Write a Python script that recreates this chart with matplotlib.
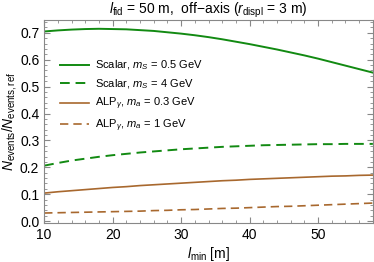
import matplotlib
matplotlib.use("Agg")
import matplotlib.pyplot as plt
from matplotlib.ticker import MultipleLocator

plt.rcParams['font.family'] = ['Liberation Sans', 'DejaVu Sans']
plt.rcParams['mathtext.fontset'] = 'custom'
plt.rcParams['mathtext.rm'] = 'Liberation Sans'
plt.rcParams['mathtext.it'] = 'Liberation Sans:italic'

# l_min [m]
l_min = [10, 12, 14, 16, 18, 20, 22, 24, 26, 28, 30, 32, 34, 36, 38, 40,
         42, 44, 46, 48, 50, 52, 54, 56, 58]

scalar_05 = [0.705, 0.709, 0.712, 0.714, 0.715, 0.714, 0.713, 0.710, 0.707, 0.702,
             0.697, 0.691, 0.684, 0.676, 0.667, 0.658, 0.648, 0.638, 0.627, 0.616,
             0.604, 0.591, 0.578, 0.565, 0.552]
scalar_4 = [0.206, 0.216, 0.225, 0.232, 0.239, 0.245, 0.250, 0.255, 0.259, 0.263,
            0.267, 0.270, 0.273, 0.276, 0.278, 0.280, 0.282, 0.283, 0.284, 0.285,
            0.286, 0.286, 0.287, 0.287, 0.287]
alp_03 = [0.104, 0.109, 0.113, 0.117, 0.121, 0.125, 0.128, 0.132, 0.135, 0.138,
          0.141, 0.144, 0.147, 0.150, 0.152, 0.155, 0.157, 0.159, 0.161, 0.163,
          0.165, 0.167, 0.168, 0.170, 0.171]
alp_1 = [0.030, 0.031, 0.032, 0.033, 0.034, 0.035, 0.036, 0.037, 0.039, 0.040,
         0.042, 0.043, 0.045, 0.047, 0.048, 0.050, 0.052, 0.054, 0.055, 0.057,
         0.059, 0.061, 0.063, 0.065, 0.067]

green = '#128a12'
brown = '#a8682e'

fig = plt.figure(figsize=(3.74, 2.62), dpi=100)
ax = fig.add_axes([0.118, 0.149, 0.879, 0.775])

ax.plot(l_min, scalar_05, color=green, lw=1.4, label=r'Scalar, $m_S$ = 0.5 GeV')
ax.plot(l_min, scalar_4, color=green, lw=1.4, ls=(0, (5, 3)), label=r'Scalar, $m_S$ = 4 GeV')
ax.plot(l_min, alp_03, color=brown, lw=1.2, label=r'ALP$_\gamma$, $m_a$ = 0.3 GeV')
ax.plot(l_min, alp_1, color=brown, lw=1.2, ls=(0, (5, 3)), label=r'ALP$_\gamma$, $m_a$ = 1 GeV')

ax.set_xlim(10, 58)
ax.set_ylim(-0.007, 0.748)
ax.xaxis.set_major_locator(MultipleLocator(10))
ax.xaxis.set_minor_locator(MultipleLocator(2))
ax.yaxis.set_major_locator(MultipleLocator(0.1))
ax.yaxis.set_minor_locator(MultipleLocator(0.02))
ax.yaxis.set_major_formatter(plt.FuncFormatter(lambda v, p: f'{v:.1f}'))

ax.tick_params(which='both', direction='in', top=True, right=True, color='#888888',
               labelsize=10)
ax.tick_params(which='major', length=4)
ax.tick_params(which='minor', length=2)
for s in ax.spines.values():
    s.set_color('#888888')

ax.set_xlabel(r'$l_{\rm min}$ [m]', fontsize=10, labelpad=2)
ax.set_ylabel(r'$N_{\rm events}/N_{\rm events,ref}$', fontsize=10, labelpad=1)
ax.set_title(r'$l_{\rm fid}$ = 50 m,  off$-$axis ($r_{\rm displ}$ = 3 m)', fontsize=10, pad=3)

ax.legend(loc='upper left', bbox_to_anchor=(0.035, 0.83), frameon=False, fontsize=8,
          handlelength=2.6, labelspacing=0.45, handletextpad=0.5, borderaxespad=0)

fig.savefig('out.png', dpi=100)
